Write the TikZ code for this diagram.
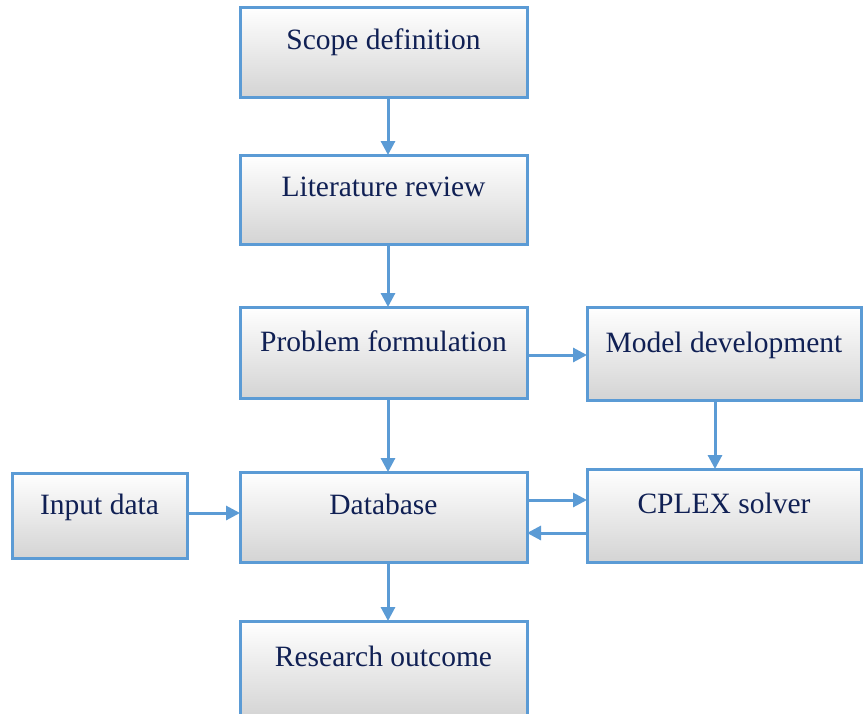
\documentclass[tikz,border=0pt]{standalone}
\usepackage{fontspec}
\setmainfont{Liberation Serif}
\usetikzlibrary{arrows.meta}
\definecolor{bordblue}{RGB}{91,155,213}
\definecolor{navy}{RGB}{16,32,84}
\begin{document}
\begin{tikzpicture}[x=1pt,y=-1pt,
  box/.style={draw=bordblue,line width=3pt,anchor=north west,
    top color=white,middle color=white,bottom color=black!17,
    inner xsep=0pt,inner ysep=0pt,outer sep=0pt,align=center,
    font=\fontsize{29.5}{32}\selectfont,text=navy},
  arr/.style={draw=bordblue,line width=3pt,
    -{Triangle[length=14pt,width=14pt]}}]
\useasboundingbox[fill=white] (0,0) rectangle (863,713);
\begin{scope}
\clip (0,0) rectangle (863,713);
\node[box,minimum width=287pt,text height=42pt,text depth=48pt] (scope) at (240,7) {Scope definition};
\node[box,minimum width=287pt,text height=41pt,text depth=48pt] (lit) at (240,155) {Literature review};
\node[box,minimum width=287pt,text height=44pt,text depth=47pt] (prob) at (240,307) {Problem formulation};
\node[box,minimum width=274pt,text height=45pt,text depth=48pt] (model) at (587,307) {Model development};
\node[box,minimum width=175pt,text height=41pt,text depth=44pt] (input) at (12,473) {Input data};
\node[box,minimum width=287pt,text height=42pt,text depth=48pt] (db) at (240,472) {Database};
\node[box,minimum width=274pt,text height=44pt,text depth=49pt] (cplex) at (587,469) {CPLEX solver};
\node[box,minimum width=287pt,text height=45pt,text depth=52pt] (res) at (240,621) {Research outcome};
\end{scope}
\draw[arr] ([xshift=4.5pt]scope.south) -- ([xshift=4.5pt]lit.north);
\draw[arr] ([xshift=4.5pt]lit.south) -- ([xshift=4.5pt]prob.north);
\draw[arr] ([xshift=4.5pt]prob.south) -- ([xshift=4.5pt]db.north);
\draw[arr] ([xshift=4.5pt]db.south) -- ([xshift=4.5pt]res.north);
\draw[arr] ([yshift=-2.5pt]prob.east) -- ([yshift=-2.5pt]prob.east -| model.west);
\draw[arr] ([xshift=-9pt]model.south) -- ([xshift=-9pt]model.south |- cplex.north);
\draw[arr] ([yshift=17pt]db.east) -- ([yshift=17pt]db.east -| cplex.west);
\draw[arr] ([yshift=-16pt]db.east -| cplex.west) -- ([yshift=-16pt]db.east);
\draw[arr] ([yshift=2.5pt]input.east) -- ([yshift=2.5pt]input.east -| db.west);
\end{tikzpicture}
\end{document}
